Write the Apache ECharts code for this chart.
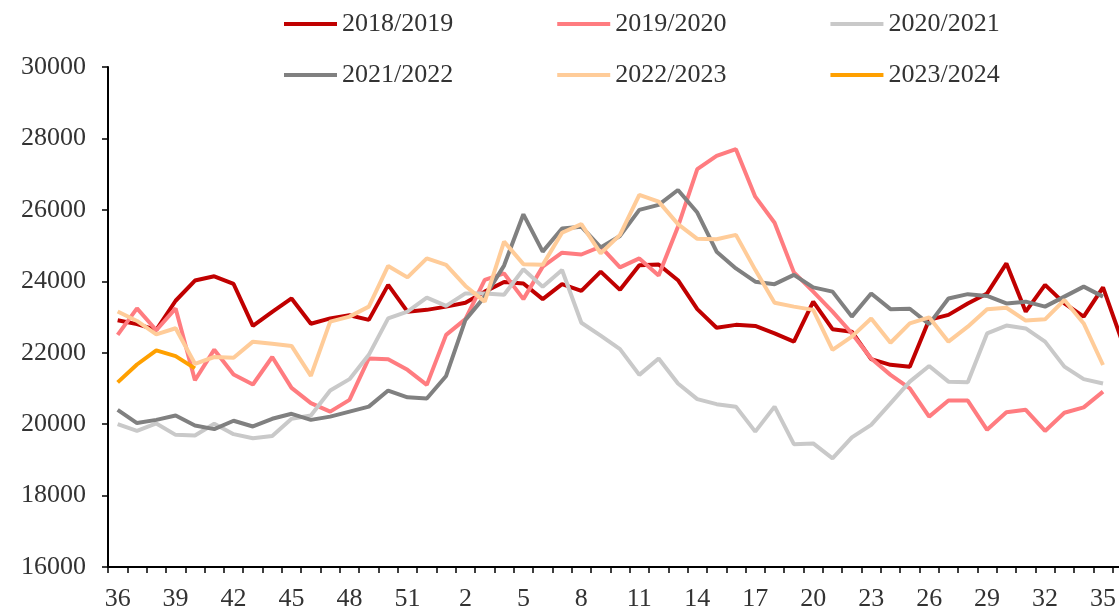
<!DOCTYPE html>
<html>
<head>
<meta charset="utf-8">
<script src="https://cdn.jsdelivr.net/npm/echarts@6/dist/echarts.min.js"></script>
<style>
  html, body { margin: 0; padding: 0; background: #fff; }
  #chart { width: 1119px; height: 608px; }
</style>
</head>
<body>
<div id="chart"></div>
<script>
// 周次：36..52, 1..36
const weeks = []
for (let w = 36; w <= 52; w++) weeks.push(String(w))
for (let w = 1; w <= 36; w++) weeks.push(String(w))

const s1819 = [22910, 22800, 22640, 23455, 24020, 24140, 23925, 22750, 23145, 23520,
  22810, 22960, 23050, 22920, 23900, 23150, 23200, 23290, 23400, 23710,
  23980, 23940, 23500, 23920, 23730, 24270, 23760, 24450, 24470, 24030,
  23220, 22700, 22780, 22750, 22540, 22310, 23430, 22660, 22590, 21820,
  21660, 21610, 22920, 23060, 23380, 23660, 24500, 23150, 23900, 23380,
  23010, 23830, 22300]
const s1920 = [22500, 23240, 22630, 23240, 21230, 22085, 21390, 21110, 21880, 21015,
  20590, 20350, 20680, 21840, 21820, 21520, 21100, 22500, 22940, 24040,
  24220, 23500, 24410, 24800, 24750, 24970, 24390, 24640, 24160, 25530,
  27140, 27510, 27700, 26370, 25640, 24250, 23710, 23150, 22540, 21840,
  21380, 21000, 20210, 20660, 20660, 19840, 20330, 20400, 19810, 20320,
  20470, 20910]
const s2021 = [20000, 19810, 20020, 19700, 19680, 20010, 19720, 19605, 19670, 20150,
  20240, 20940, 21260, 21940, 22960, 23150, 23540, 23310, 23660, 23660,
  23625, 24335, 23850, 24316, 22840, 22480, 22100, 21380, 21840, 21140,
  20700, 20560, 20490, 19790, 20490, 19440, 19460, 19040, 19630, 19980,
  20580, 21190, 21630, 21190, 21170, 22540, 22760, 22680, 22310, 21610,
  21260, 21140]
const s2122 = [20400, 20030, 20120, 20240, 19960, 19860, 20095, 19935, 20150, 20290,
  20120, 20210, 20350, 20490, 20940, 20750, 20720, 21350, 22920, 23570,
  24440, 25875, 24830, 25480, 25530, 24950, 25270, 26000, 26140, 26556,
  25925, 24830, 24360, 23990, 23920, 24180, 23830, 23710, 23010, 23660,
  23220, 23230, 22800, 23520, 23640, 23590, 23380, 23430, 23290, 23570,
  23850, 23570]
const s2223 = [23155, 22890, 22515, 22685, 21690, 21880, 21860, 22310, 22250, 22190,
  21350, 22870, 23010, 23290, 24430, 24110, 24640, 24460, 23870, 23430,
  25110, 24480, 24460, 25360, 25600, 24780, 25300, 26420, 26230, 25600,
  25190, 25175, 25300, 24320, 23400, 23290, 23200, 22080, 22450, 22960,
  22280, 22820, 22990, 22310, 22730, 23215, 23260, 22900, 22935, 23476,
  22820, 21656]
const s2324 = [21170, 21670, 22065, 21905, 21560]

const seriesNames = ['2018/2019', '2019/2020', '2020/2021', '2021/2022', '2022/2023', '2023/2024']
const seriesData = [s1819, s1920, s2021, s2122, s2223, s2324]
const colors = ['#C00000', '#FF7C80', '#C9C9C9', '#808080', '#FFCC99', '#FFA000']

const font = 'Liberation Serif'
const textStyle = { fontFamily: font, fontSize: 26, color: '#333' }

let chart = echarts.init(document.getElementById('chart'))

const legendBase = {
  left: 279,
  orient: 'horizontal',
  icon: 'rect',
  itemWidth: 53,
  itemHeight: 4,
  itemGap: 104,
  textStyle: textStyle
}

chart.setOption({
  animation: false,
  color: colors,
  textStyle: { fontFamily: font },
  legend: [
    Object.assign({ top: 6, data: seriesNames.slice(0, 3) }, legendBase),
    Object.assign({ top: 57, data: seriesNames.slice(3) }, legendBase)
  ],
  // 右侧最后一周被截掉，轴延伸到画布外
  grid: { left: 108, width: 1024, top: 67, bottom: 41, outerBoundsMode: 'none', containLabel: false },
  xAxis: {
    type: 'category',
    data: weeks,
    boundaryGap: true,
    axisLine: { show: true, lineStyle: { color: '#000', width: 2 } },
    axisTick: { show: true, interval: 0, length: 6, lineStyle: { color: '#000', width: 1.5 } },
    axisLabel: Object.assign({ interval: 2, margin: 19 }, textStyle),
    splitLine: { show: false }
  },
  yAxis: {
    type: 'value',
    min: 16000,
    max: 30000,
    interval: 2000,
    axisLine: { show: true, lineStyle: { color: '#000', width: 2 } },
    axisTick: { show: true, length: 6, lineStyle: { color: '#000', width: 1.5 } },
    axisLabel: Object.assign({ margin: 22, formatter: function (v) { return String(v) } }, textStyle),
    splitLine: { show: false }
  },
  series: seriesNames.map(function (name, i) {
    return {
      name: name,
      type: 'line',
      data: seriesData[i],
      symbol: 'none',
      lineStyle: { width: 4, color: colors[i] },
      itemStyle: { color: colors[i] }
    }
  })
})
</script>
</body>
</html>
